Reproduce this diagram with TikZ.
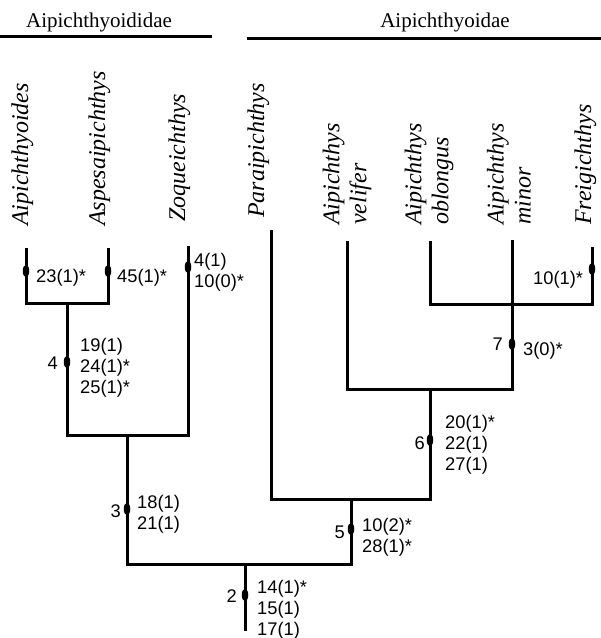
\documentclass[tikz,border=0pt]{standalone}
\usepackage{fontspec}
\setmainfont{Liberation Serif}
\newfontfamily\labfont{Liberation Sans}
\usetikzlibrary{shapes.geometric}
\begin{document}
\begin{tikzpicture}[x=1pt,y=-1pt,
  branch/.style={line width=3pt, line join=miter, line cap=butt},
  bar/.style={line width=3pt},
  syn/.style={ellipse, fill=black, inner sep=0pt, minimum width=6.5pt, minimum height=12.5pt},
  chr/.style={font=\labfont\fontsize{18.3}{21}\selectfont, align=left, anchor=west, inner sep=0pt},
  nodenum/.style={font=\labfont\fontsize{18.3}{21}\selectfont, anchor=east, inner sep=0pt},
  taxon/.style={font=\fontsize{24}{27}\selectfont\itshape, rotate=90, inner sep=0pt},
  taxon2/.style={taxon, align=left, anchor=west},
  cladename/.style={font=\fontsize{21}{25}\selectfont, inner sep=0pt, anchor=base}]
\useasboundingbox (0,0) rectangle (601,638);

% family headers
\node[cladename] (h1) at (99,27) {Aipichthyoididae};
\node[cladename] (h2) at (445,27) {Aipichthyoidae};
\coordinate (h1a) at (0,36);
\coordinate (h1b) at (212,36);
\coordinate (h2a) at (247,38);
\coordinate (h2b) at (601,38);
\draw[bar] (h1a) -- (h1b);
\draw[bar] (h2a) -- (h2b);

% taxa
\node[taxon, anchor=base west] (nA) at (28,226) {Aipichthyoides};
\node[taxon, anchor=base west] (nB) at (105,226) {Aspesaipichthys};
\node[taxon, anchor=base west] (nZ) at (185,222) {Zoqueichthys};
\node[taxon, anchor=base west] (nP) at (264,218) {Paraipichthys};
\node[taxon2] (nV) at (347,225) {Aipichthys\\velifer};
\node[taxon2] (nO) at (429,225) {Aipichthys\\oblongus};
\node[taxon2] (nM) at (509,225) {Aipichthys\\minor};
\node[taxon, anchor=base west] (nF) at (591,225) {Freigichthys};

% tips
\coordinate (tA) at (26,248);
\coordinate (tB) at (108,248);
\coordinate (tZ) at (188,246);
\coordinate (tP) at (271,230);
\coordinate (tV) at (347,241);
\coordinate (tO) at (430,241);
\coordinate (tM) at (512,240);
\coordinate (tF) at (592,247);
% junctions
\coordinate (j4) at (67,303);
\coordinate (j3) at (127,435);
\coordinate (j2) at (245,564);
\coordinate (j5) at (351,499);
\coordinate (j6) at (430,389);
\coordinate (j7) at (512,304);
\coordinate (root) at (245,631);

% branches
\draw[branch] (tA) |- (j4) -| (tB);
\draw[branch] (j4) |- (j3) -| (tZ);
\draw[branch] (j3) |- (j2) -| (j5);
\draw[branch] (j2) -- (root);
\draw[branch] (tP) |- (j5) -| (j6);
\draw[branch] (tV) |- (j6) -| (tM);
\draw[branch] (tO) |- (j7) -| (tF);

% synapomorphy marks
\node[syn] (sA) at (26,271) {};
\node[syn] (sB) at (108,271) {};
\node[syn] (sZ) at (188,267) {};
\node[syn] (s4) at (67,362) {};
\node[syn] (s3) at (127,509) {};
\node[syn] (sF) at (592,269) {};
\node[syn] (s7) at (512,344) {};
\node[syn] (s6) at (430,440) {};
\node[syn] (s5) at (351,529) {};
\node[syn] (s2) at (245,595) {};

% character labels
\node[chr] (cA) at (36,277.5) {23(1)*};
\node[chr] (cB) at (117,277.5) {45(1)*};
\node[chr] (cZ) at (194,272.5) {4(1)\\10(0)*};
\node[chr] (c4) at (80,367.5) {19(1)\\24(1)*\\25(1)*};
\node[chr] (cF) at (533,279.5) {10(1)*};
\node[chr] (c7) at (523,351) {3(0)*};
\node[chr] (c6) at (445,445) {20(1)*\\22(1)\\27(1)};
\node[chr] (c3) at (137,514) {18(1)\\21(1)};
\node[chr] (c5) at (362,537.5) {10(2)*\\28(1)*};
\node[chr] (c2) at (257,609.5) {14(1)*\\15(1)\\17(1)};

% node numbers
\node[nodenum] (k4) at (58,363) {4};
\node[nodenum] (k3) at (121,511) {3};
\node[nodenum] (k7) at (503,344) {7};
\node[nodenum] (k6) at (425,443) {6};
\node[nodenum] (k5) at (345,532) {5};
\node[nodenum] (k2) at (237,596) {2};
\end{tikzpicture}
\end{document}
